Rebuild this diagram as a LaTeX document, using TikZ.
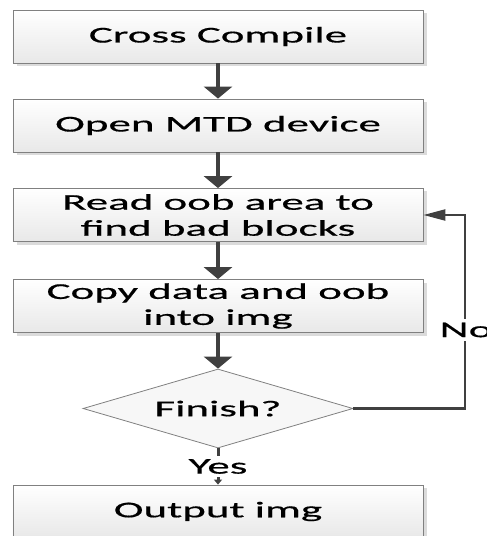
\documentclass[tikz,border=0pt]{standalone}
\usepackage{fontspec}
\setmainfont[FakeStretch=2.0,FakeBold=0.6]{Carlito}
\usetikzlibrary{arrows.meta,shapes.geometric,shadows}

\begin{document}
\begin{tikzpicture}[x=1bp,y=-1bp,
  every node/.style={font=\fontsize{22.5bp}{26bp}\selectfont},
  procbox/.style={draw=black!50, line width=0.8bp, top color=white, bottom color=black!9,
    minimum width=410bp, minimum height=53bp, inner sep=0pt, align=center,
    drop shadow={shadow xshift=4bp, shadow yshift=-3bp, fill=black!14, opacity=1}},
  decision/.style={diamond, aspect=3.42, draw=black!50, line width=0.8bp, fill=black!3,
    minimum width=270bp, minimum height=79bp, inner sep=0pt},
  flow/.style={draw=black!75, line width=3.5bp, -{Triangle[width=28bp,length=12bp]}},
  backedge/.style={draw=black!75, line width=2.2bp, -{Triangle[width=11bp,length=22bp]}},
  yesflow/.style={draw=black!75, line width=3bp, -{Triangle[width=8bp,length=5bp]}},
  edgelabel/.style={fill=white, inner xsep=1bp, inner ysep=3.5bp}]

\path[use as bounding box] (0,0) rectangle (487,536);
\clip (0,0) rectangle (487,536);

% process steps
\node[procbox] (cc)  at (218,36.5)  {Cross Compile};
\node[procbox] (mtd) at (218,125.5) {Open MTD device};
\node[procbox] (rd)  at (218,215)   {Read oob area to\\find bad blocks};
\node[procbox] (cp)  at (218,306)   {Copy data and oob\\into img};
\node[decision] (fin) at (218,408.5) {Finish?};
\node[procbox] (out) at (218,511.5) {Output img};

% main flow
\draw[flow] (cc.south)  -- (mtd.north);
\draw[flow] (mtd.south) -- (rd.north);
\draw[flow] (rd.south)  -- (cp.north);
\draw[flow] (cp.south)  -- (fin.north);
\draw[yesflow] (fin.south) -- node[edgelabel, pos=0.5] {Yes} (out.north);

% loop back when not finished
\coordinate (loopx) at (465,0);
\draw[backedge] (fin.east) -| (loopx |- rd.east) -- (rd.east);
\node[edgelabel] (no) at (466,330) {No};
\end{tikzpicture}
\end{document}
